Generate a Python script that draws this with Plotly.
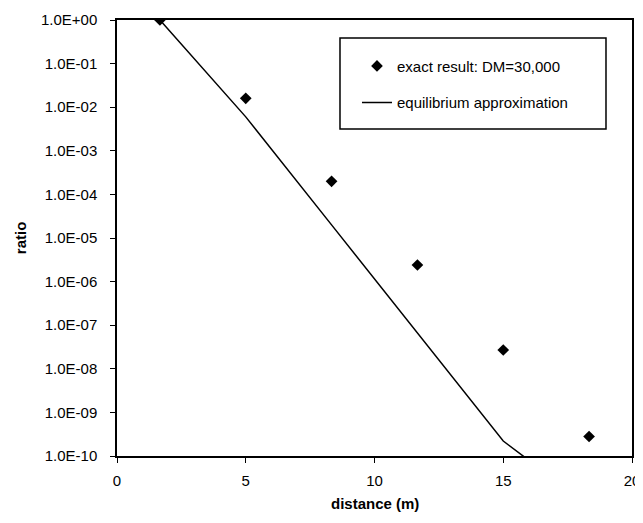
import plotly.graph_objects as go

# Data
distance = [1.667, 5.0, 8.333, 11.667, 15.0, 18.333]
exact_ratio = [1.0, 1.6e-2, 2.0e-4, 2.4e-6, 2.7e-8, 2.8e-10]
equil_ratio = [1.0, 6.0e-3, 2.0e-5, 6.5e-8, 2.2e-10, 7.3e-12]

y_tickvals = [10.0 ** -k for k in range(0, 11)]
y_ticktext = ["1.0E+00"] + ["1.0E-%02d" % k for k in range(1, 11)]
x_tickvals = [0, 5, 10, 15, 20]

FONT = "Liberation Sans, Arial, sans-serif"

fig = go.Figure()
fig.add_trace(go.Scatter(
    x=distance, y=exact_ratio, mode="markers",
    name="exact result: DM=30,000",
    marker=dict(symbol="diamond", size=9, color="black"),
    legendgroup="a",
))
fig.add_trace(go.Scatter(
    x=distance, y=equil_ratio, mode="lines",
    name="equilibrium approximation",
    line=dict(color="black", width=1.5),
    legendgroup="b",
))

# page body has an 8px margin, so the figure is sized/offset to compensate
fig.update_layout(
    width=635, height=515,
    margin=dict(l=109, r=11, t=12, b=67),
    paper_bgcolor="white", plot_bgcolor="white",
    font=dict(family=FONT, size=15, color="black"),
    showlegend=True,
    legend=dict(
        x=0.466, y=0.932, xanchor="left", yanchor="top",
        bgcolor="rgba(0,0,0,0)", borderwidth=0,
        font=dict(family=FONT, size=15, color="black"),
        tracegroupgap=14, traceorder="grouped",
    ),
    xaxis=dict(
        range=[0, 20], tickvals=x_tickvals, ticks="outside", ticklen=5,
        tickcolor="black", showline=True, linecolor="black", linewidth=1.5,
        mirror=True, showgrid=False, zeroline=False, automargin=False,
        ticklabelstandoff=5,
    ),
    yaxis=dict(
        type="log", range=[-10, 0], tickvals=y_tickvals, ticktext=y_ticktext,
        ticks="outside", ticklen=5, tickcolor="black",
        showline=True, linecolor="black", linewidth=1.5, mirror=True,
        showgrid=False, zeroline=False, automargin=False,
        ticklabelstandoff=10,
    ),
    shapes=[dict(
        type="rect", xref="paper", yref="paper",
        x0=0.433, x1=0.9495, y0=0.75, y1=0.9587,
        line=dict(color="black", width=1.5), fillcolor="rgba(0,0,0,0)",
    )],
    annotations=[
        dict(text="<b>distance (m)</b>", xref="paper", yref="paper",
             x=0.5, y=-0.108, xanchor="center", yanchor="middle",
             showarrow=False, font=dict(size=15)),
        dict(text="<b>ratio</b>", xref="paper", yref="paper",
             x=-0.188, y=0.5, xanchor="center", yanchor="middle",
             textangle=-90, showarrow=False, font=dict(size=15)),
    ],
)

fig.write_html("out.html")
